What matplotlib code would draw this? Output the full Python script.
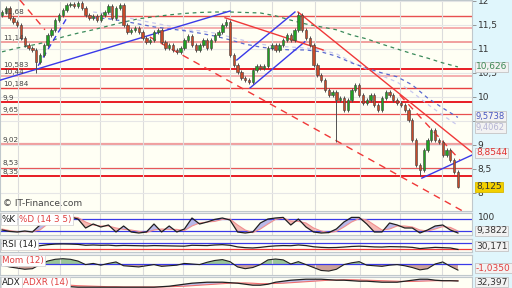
import matplotlib.pyplot as plt
import numpy as np

# ---- price data (one candle per session) ----
first_open = 11.70
closes = [11.77, 11.85, 11.65, 11.56, 11.50, 11.23, 11.08, 11.02, 10.98, 10.73,
          10.88, 11.08, 11.29, 11.40, 11.60, 11.71, 11.81, 11.92, 11.94, 11.90,
          11.96, 11.85, 11.71, 11.65, 11.69, 11.60, 11.71, 11.77, 11.90, 11.65,
          11.85, 11.92, 11.50, 11.35, 11.40, 11.44, 11.35, 11.23, 11.15, 11.19,
          11.35, 11.40, 11.15, 11.02, 11.08, 10.98, 10.94, 11.02, 11.19, 11.27,
          11.08, 10.98, 11.08, 11.19, 11.02, 11.19, 11.29, 11.35, 11.50, 11.56,
          10.88, 10.67, 10.52, 10.40, 10.35, 10.31, 10.56, 10.65, 10.60, 10.65,
          11.02, 11.08, 10.98, 11.08, 11.19, 11.29, 11.19, 11.40, 11.71, 11.40,
          11.23, 11.08, 10.67, 10.46, 10.35, 10.15, 10.04, 10.10, 9.94, 9.98,
          9.73, 9.94, 10.15, 10.25, 10.04, 9.88, 9.94, 10.04, 9.83, 9.73,
          9.98, 10.10, 10.04, 9.94, 9.88, 9.83, 9.73, 9.52, 9.10, 8.58,
          8.48, 8.90, 9.10, 9.31, 9.10, 9.06, 8.79, 8.90, 8.69, 8.44,
          8.125]
spike_highs = {59: 11.63, 78: 11.78}
spike_lows = {9: 10.50, 88: 9.06, 110: 8.35, 120: 8.10}

# moving averages (sampled every 4 sessions)
ma_green = [10.94, 11.02, 11.08, 11.15, 11.25, 11.33, 11.40, 11.48, 11.56, 11.63,
            11.67, 11.71, 11.74, 11.76, 11.77, 11.77, 11.76, 11.75, 11.69, 11.60,
            11.52, 11.46, 11.40, 11.29, 11.21, 11.10, 11.00, 10.90, 10.81, 10.71,
            10.626]
ma_blue = [11.65, 11.63, 11.58, 11.52, 11.46, 11.42, 11.38, 11.33, 11.27, 11.19,
           11.10, 11.04, 11.00, 10.98, 10.98, 10.94, 10.85, 10.71, 10.60, 10.50,
           10.42, 10.25, 9.98, 9.77, 9.5738]
ma_lav = [11.77, 11.73, 11.67, 11.60, 11.54, 11.48, 11.40, 11.38, 11.33, 11.25,
          11.17, 11.10, 11.06, 11.04, 11.02, 10.98, 10.90, 10.73, 10.58, 10.44,
          10.31, 10.10, 9.85, 9.62, 9.4062]

# support / resistance levels
levels = [12.0, 11.68, 11.44, 11.14, 10.583, 10.44, 10.184, 9.9, 9.65, 9.02, 8.53, 8.35]
level_text = ['', '11,68', '', '11,14', '10,583', '10,44', '10,184', '9,9', '9,65',
              '9,02', '8,53', '8,35']

# trend lines: (start session, start price), (end session, end price)
trend_blue = [((-0.5, 10.35), (60.0, 11.79)),
              ((61.8, 10.77), (77.1, 11.77)),
              ((65.3, 10.19), (79.7, 11.15)),
              ((110.5, 8.31), (123.7, 8.79))]
trend_blue_dash = [((9.5, 10.65), (17.1, 11.65))]
trend_red = [((77.9, 11.77), (123.7, 8.85)),
             ((58.7, 11.65), (84.5, 10.98))]
trend_red_dash = [((38.9, 11.25), (121.8, 7.60)),
                  ((104.7, 10.04), (120.5, 8.69)),
                  ((4.7, 12.02), (11.3, 11.40))]

# indicators (sampled every 2 sessions)
stoch_k = [25, 18, 15, 20, 15, 50, 90, 92, 92, 90, 80, 35, 55, 40, 50, 15, 45, 15, 10, 15,
           55, 15, 45, 15, 30, 85, 55, 65, 78, 85, 75, 15, 10, 15, 60, 80, 85, 88, 50, 80,
           40, 15, 10, 12, 30, 65, 88, 88, 55, 15, 15, 60, 50, 35, 35, 10, 25, 45, 50, 25, 10]
stoch_d = [30, 22, 17, 17, 17, 25, 55, 80, 90, 91, 87, 65, 50, 45, 45, 35, 28, 25, 18, 12,
           25, 30, 28, 28, 22, 45, 60, 65, 68, 78, 80, 50, 25, 12, 30, 55, 78, 85, 70, 68,
           60, 35, 20, 12, 18, 40, 65, 82, 75, 50, 25, 30, 45, 45, 40, 25, 20, 30, 42, 38, 20]
rsi = [42, 45, 44, 46, 48, 55, 62, 66, 67, 66, 64, 58, 60, 58, 59, 55, 57, 56, 55, 54,
       56, 55, 54, 53, 52, 58, 57, 56, 60, 62, 58, 47, 42, 40, 44, 50, 54, 56, 55, 60,
       56, 48, 44, 42, 43, 46, 50, 52, 50, 47, 46, 49, 48, 47, 44, 36, 40, 44, 42, 40, 30.171]
mom = [-0.2, -0.5, -0.7, -0.9, -0.8, -0.1, 0.5, 0.8, 0.9, 0.8, 0.5, -0.1, 0.1, -0.2, 0.1,
       0.35, -0.3, -0.4, -0.5, -0.3, -0.1, -0.4, -0.3, -0.2, 0.1, 0.0, -0.1, 0.3, 0.6, 0.75,
       0.4, -0.5, -0.8, -0.6, -0.1, 0.7, 0.85, 0.7, 0.0, 0.4, -0.1, -0.6, -1.1, -1.2, -0.9,
       -0.1, 0.2, 0.4, -0.2, -0.3, -0.4, -0.2, -0.1, -0.3, -0.6, -1.0, -0.8, 0.0, 0.35, -0.4,
       -1.035]
adx = [32, 30, 29, 28, 26, 25, 24, 23, 22, 21, 20, 20, 20, 20, 20, 20, 20, 20, 20, 20,
       20, 21, 22, 24, 26, 28, 29, 30, 30, 30, 29, 28, 26, 24, 24, 26, 30, 32, 34, 35,
       36, 36, 36, 35, 34, 34, 33, 32, 32, 31, 30, 30, 30, 32, 34, 36, 36, 34, 33, 33, 32.4]
adxr = [30, 30, 29.5, 29, 28.5, 28, 27, 26, 25, 24, 23, 22.5, 22, 21.5, 21, 21, 20.5, 20.5,
        20.5, 20.5, 20.5, 20.5, 21, 21.5, 22, 23, 24, 25, 26, 27, 28, 28.5, 28.5, 28, 27, 27,
        27.5, 28, 29, 30, 31, 32, 33, 34, 34.5, 35, 35, 34.5, 34, 33.5, 33, 32.5, 32, 31.5,
        31.5, 32, 32.5, 33, 33, 33, 33]

month_lines = [4.2, 15.3, 25.8, 37.1, 47.6, 60, 71.1, 82.4, 94.2, 104.7, 115.8]

# ---- build ----
closes = np.array(closes)
n = len(closes)
idx = np.arange(n)
opens = np.concatenate([[first_open], closes[:-1]])
top = np.maximum(opens, closes)
bot = np.minimum(opens, closes)
highs = top + 0.04
lows = bot - 0.04
for k, v in spike_highs.items():
    highs[k] = v
for k, v in spike_lows.items():
    lows[k] = v

ma4_x = np.arange(0, n, 4)
ma_blue_x = np.arange(24, n, 4)
ind_x = np.arange(0, n, 2)

H = 288.0
XL = (-0.53, 123.7)
PLOT_W = 472 / 512
BG = '#fffff4'

fig = plt.figure(figsize=(5.12, 2.88), dpi=100, facecolor='#e0f6fc')
# light grey strip behind the indicator panels / gaps
fig.patches.append(plt.Rectangle((0, 0), PLOT_W, 1 - 211 / H, transform=fig.transFigure,
                                 fc='#eef0f0', ec='none', zorder=-1))


def panel(y0, y1):
    ax = fig.add_axes([0, 1 - y1 / H, PLOT_W, (y1 - y0) / H])
    ax.set_facecolor(BG)
    ax.set_xlim(*XL)
    ax.set_xticks(month_lines)
    ax.tick_params(axis='x', length=0, labelbottom=False)
    ax.grid(axis='x', color='#dcdcdc', lw=0.8)
    ax.set_yticks([])
    for s in ax.spines.values():
        s.set_color('#c0c8cc')
        s.set_linewidth(0.8)
    return ax


# main price panel
ax = panel(0, 211)
ax.set_ylim(7.625, 12.02)
ticks = np.arange(8, 12.01, 0.5)
ax.set_yticks(ticks)
ax.grid(axis='y', color='#e6e6e6', lw=0.8)
ax.yaxis.tick_right()
ax.set_yticklabels([('%g' % v).replace('.', ',') for v in ticks])
ax.tick_params(axis='y', labelsize=6.5, labelcolor='#333333', color='#888888',
               length=3, pad=1, width=0.6)

lv_col = ['#e82228', '#e85050', '#f4a8a8', '#f09898', '#e81c24', '#f4a8a8', '#e84040',
          '#e81c24', '#e85050', '#f0a0a0', '#e85050', '#e81c24']
lv_w = [1.2, 1.0, 1.3, 1.3, 1.4, 1.3, 1.0, 1.4, 0.9, 1.6, 0.9, 1.4]
for lv, txt, c, w in zip(levels, level_text, lv_col, lv_w):
    ax.axhline(lv, color=c, lw=w, zorder=1)
    if txt:
        ax.annotate(txt, xy=(XL[0], lv), xytext=(2, 0.8), textcoords='offset points',
                    fontsize=5.2, color='#444444', va='bottom', ha='left', zorder=8)

ax.plot(ma4_x, ma_green, color='#3a8a5a', lw=0.9, ls=(0, (3, 3)), zorder=2)
ax.plot(ma_blue_x, ma_lav, color='#c8c8ee', lw=0.9, ls=(0, (3, 3)), zorder=2)
ax.plot(ma_blue_x, ma_blue, color='#5a6ad0', lw=0.9, ls=(0, (3, 3)), zorder=2)

for (a, b) in trend_blue:
    ax.plot([a[0], b[0]], [a[1], b[1]], color='#3a3ae8', lw=1.0, zorder=3)
for (a, b) in trend_blue_dash:
    ax.plot([a[0], b[0]], [a[1], b[1]], color='#3a3ae8', lw=1.0, ls=(0, (4, 3)), zorder=3)
for (a, b) in trend_red:
    ax.plot([a[0], b[0]], [a[1], b[1]], color='#f03838', lw=1.0, zorder=3)
for (a, b) in trend_red_dash:
    ax.plot([a[0], b[0]], [a[1], b[1]], color='#f03838', lw=1.0, ls=(0, (5, 4)), zorder=3)

up = closes >= opens
cols = np.where(up, '#22a022', '#c84a2a')
ax.vlines(idx, lows, highs, color='#505050', lw=0.7, zorder=4)
ax.bar(idx, np.maximum(top - bot, 0.012), bottom=bot, width=0.6, color=cols,
       edgecolor='#404040', linewidth=0.4, zorder=5)

ax.text(0.006, 0.013, '© IT-Finance.com', transform=ax.transAxes, fontsize=6.5,
        color='#444444', ha='left', va='bottom')


# value boxes on the right scale
def vbox(ypx, txt, tc, fc='#f2f2f2', ec='#c4c4c4', fs=6.5):
    fig.text(476 / 512, 1 - ypx / H, txt, fontsize=fs, color=tc, ha='left', va='center',
             bbox=dict(boxstyle='square,pad=0.1', fc=fc, ec=ec, lw=0.6))


vbox(67, '10,626', '#3e8a58')
vbox(116, '9,5738', '#4858c0', fs=6.0)
vbox(127.5, '9,4062', '#b4b4d4', fs=6.0)
vbox(153, '8,8544', '#e03030')
vbox(187, '8,125', '#333333', fc='#f2d000', ec='#d8b800')


def tag(axp, parts):
    for xpx, txt, c in parts:
        axp.text(xpx / 472, 0.93, txt, transform=axp.transAxes, fontsize=6.3, color=c,
                 ha='left', va='top', zorder=6,
                 bbox=dict(boxstyle='square,pad=0.12', fc='white', ec='#d0d0d0', lw=0.5))


# stochastic
a1 = panel(213, 235)
a1.set_ylim(0, 110)
for v in (80, 20):
    a1.axhline(v, color='#3a3ae8', lw=0.9)
k = np.array(stoch_k, float)
d = np.array(stoch_d, float)
a1.fill_between(ind_x, k, d, where=d >= k, color='#f08080', alpha=0.55, lw=0, interpolate=True)
a1.fill_between(ind_x, k, d, where=k > d, color='#8080e0', alpha=0.55, lw=0, interpolate=True)
a1.plot(ind_x, d, color='#f09090', lw=0.8)
a1.plot(ind_x, k, color='#202020', lw=0.9)
tag(a1, [(2, '%K', '#202020'), (19, '%D (14 3 5)', '#e04040')])
fig.text(478 / 512, 1 - 218 / H, '100', fontsize=6.5, color='#333333', va='center')
vbox(231, '9,3822', '#333333')

# RSI
a2 = panel(239, 252)
a2.set_ylim(13, 100)
a2.axhline(70, color='#3a3ae8', lw=0.9)
a2.axhline(30, color='#f03838', lw=0.9)
a2.plot(ind_x, rsi, color='#202020', lw=0.9)
tag(a2, [(2, 'RSI (14)', '#202020')])
vbox(246, '30,171', '#333333')

# momentum
a3 = panel(255, 275)
a3.set_ylim(-1.87, 1.53)
m = np.array(mom)
a3.fill_between(ind_x, m, 0, where=m >= 0, color='#88bb88', alpha=0.85, lw=0, interpolate=True)
a3.fill_between(ind_x, m, 0, where=m < 0, color='#c49088', alpha=0.85, lw=0, interpolate=True)
a3.axhline(0, color='#3a3ae8', lw=0.9)
a3.plot(ind_x, m, color='#202020', lw=0.8)
tag(a3, [(2, 'Mom (12)', '#e04040')])
vbox(268, '-1,0350', '#e04040')

# ADX
a4 = panel(277, 295)
a4.set_ylim(4.4, 40.4)
adx_a = np.array(adx, float)
adxr_a = np.array(adxr, float)
a4.fill_between(ind_x, adx_a, adxr_a, where=adxr_a >= adx_a, color='#f08080', alpha=0.5,
                lw=0, interpolate=True)
a4.fill_between(ind_x, adx_a, adxr_a, where=adx_a > adxr_a, color='#8080e0', alpha=0.5,
                lw=0, interpolate=True)
a4.plot(ind_x, adxr_a, color='#f07070', lw=0.8)
a4.plot(ind_x, adx_a, color='#202020', lw=0.9)
tag(a4, [(2, 'ADX', '#202020'), (23, 'ADXR (14)', '#e04040')])
vbox(282, '32,397', '#333333')

fig.savefig('out.png', dpi=100, facecolor=fig.get_facecolor())
